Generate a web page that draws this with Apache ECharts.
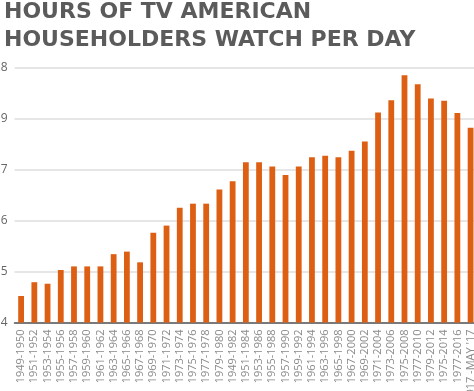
<!DOCTYPE html>
<html>
<head>
<meta charset="utf-8">
<script src="https://cdn.jsdelivr.net/npm/echarts@6/dist/echarts.min.js"></script>
<style>html,body{margin:0;padding:0;background:#fff}#c{width:474px;height:391px}</style>
</head>
<body>
<div id="c"></div>
<script>
const categories = ["1949-1950","1951-1952","1953-1954","1955-1956","1957-1958","1959-1960","1961-1962","1963-1964","1965-1966","1967-1968","1969-1970","1971-1972","1973-1974","1975-1976","1977-1978","1979-1980","1949-1982","1951-1984","1953-1986","1955-1988","1957-1990","1959-1992","1961-1994","1963-1996","1965-1998","1967-2000","1969-2002","1971-2004","1973-2006","1975-2008","1977-2010","1979-2012","1975-2014","1977-2016","JAN 2017 -MAY '17"];
const hours = [4.52,4.79,4.76,5.03,5.10,5.10,5.10,5.34,5.39,5.18,5.76,5.90,6.25,6.33,6.33,6.61,6.77,7.14,7.14,7.06,6.89,7.06,7.24,7.27,7.24,7.37,7.55,8.12,8.36,8.85,8.67,8.39,8.35,8.11,7.82];
const yTickLabels = ["4","5","6","7","9","8"];

const chart = echarts.init(document.getElementById('c'), null, {renderer:'canvas'});
chart.setOption({
  animation:false,
  title:{
    text:"HOURS OF TV AMERICAN\nHOUSEHOLDERS WATCH PER DAY",
    left:-1, top:-7,
    textStyle:{fontFamily:'DejaVu Sans', fontWeight:'bold', fontSize:22, lineHeight:28, color:'#5b5b5b'}
  },
  grid:{left:14.5, right:-3.2, top:67.5, bottom:68.5, containLabel:false, outerBoundsMode:'none'},
  xAxis:{
    type:'category', data:categories,
    axisLine:{lineStyle:{color:'#555', width:1.5}},
    axisTick:{show:false},
    axisLabel:{rotate:90, interval:0, margin:7, color:'#8a8a8a', fontSize:11, fontFamily:'Open Sans', hideOverlap:false}
  },
  yAxis:{
    type:'value', min:4, max:9, interval:1,
    axisLine:{show:false}, axisTick:{show:false},
    splitLine:{lineStyle:{color:'#dedede', width:1.5}},
    axisLabel:{margin:7, color:'#666', fontSize:12, fontFamily:'Open Sans',
      formatter:(v)=>yTickLabels[Math.round(v-4)]}
  },
  series:[{type:'bar', data:hours, barWidth:5.8, itemStyle:{color:'#dd5f14'}}]
});
</script>
</body>
</html>
